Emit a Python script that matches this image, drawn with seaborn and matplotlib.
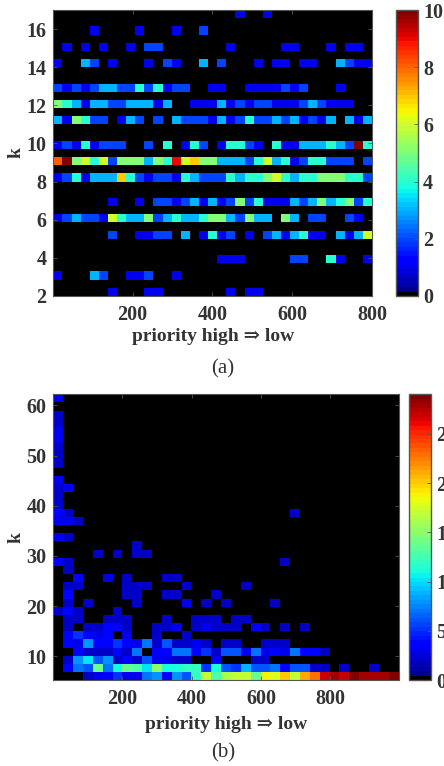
import matplotlib
matplotlib.use("Agg")
import matplotlib.pyplot as plt
from matplotlib.colors import ListedColormap
import numpy as np
import seaborn as sns

# panel (a): one list per k, 35 priority bins
a_k17 = [0] * 20 + [1, 0, 0, 1] + [0] * 11
a_k16 = [0, 0, 0, 0, 1, 0, 0, 0, 0, 1, 0, 0, 0, 1, 0, 0, 2] + [0] * 18
a_k15 = [0, 1, 0, 1, 0, 1, 0, 0, 1, 0, 2, 2, 0, 0, 0, 0, 0, 0, 0, 1, 0, 0, 0, 0, 0, 1, 1, 0, 0, 0, 1, 0, 1, 1, 0]
a_k14 = [1, 0, 0, 3, 2, 0, 1, 0, 0, 0, 1, 0, 2, 1, 0, 0, 3, 0, 2, 0, 0, 0, 1, 0, 1, 1, 0, 1, 1, 0, 0, 3, 2, 1, 1]
a_k13 = [2, 1, 2, 1, 2, 3, 3, 2, 2, 4, 2, 4, 1, 2, 2, 0, 0, 1, 1, 0, 0, 1, 1, 1, 1, 2, 1, 2, 0, 0, 0, 1, 0, 0, 0]
a_k12 = [5, 4, 3, 1, 3, 3, 2, 2, 3, 3, 3, 1, 3, 0, 0, 1, 1, 1, 3, 1, 2, 1, 2, 2, 1, 1, 1, 2, 3, 2, 1, 1, 1, 0, 0]
a_k11 = [3, 1, 5, 4, 2, 2, 0, 1, 3, 2, 0, 2, 0, 3, 2, 2, 2, 1, 3, 1, 2, 4, 2, 2, 3, 2, 3, 1, 2, 1, 3, 0, 3, 1, 3]
a_k10 = [1, 2, 1, 4, 1, 2, 2, 2, 0, 0, 2, 0, 4, 0, 1, 4, 2, 0, 1, 4, 4, 2, 1, 0, 4, 1, 1, 3, 3, 3, 4, 3, 2, 10, 4]
a_k9 = [8, 10, 5, 6, 4, 6, 2, 5, 5, 5, 3, 5, 4, 9, 6, 7, 5, 5, 3, 3, 3, 2, 4, 6, 3, 4, 1, 2, 4, 4, 2, 2, 2, 0, 2]
a_k8 = [1, 2, 4, 1, 3, 3, 3, 7, 4, 2, 1, 2, 2, 1, 4, 3, 2, 2, 2, 4, 3, 4, 4, 5, 6, 4, 3, 4, 4, 5, 5, 5, 4, 4, 2]
a_k7 = [0, 0, 0, 0, 0, 0, 1, 0, 0, 1, 0, 2, 2, 1, 2, 3, 1, 3, 1, 2, 5, 2, 4, 1, 1, 1, 3, 2, 3, 5, 3, 4, 5, 2, 4]
a_k6 = [1, 2, 3, 2, 2, 1, 6, 4, 3, 3, 5, 2, 3, 4, 3, 3, 4, 5, 5, 3, 2, 5, 3, 3, 0, 5, 3, 0, 2, 2, 0, 0, 2, 1, 0]
a_k5 = [0, 0, 0, 0, 0, 0, 2, 0, 0, 1, 1, 2, 2, 0, 3, 0, 1, 4, 1, 2, 0, 1, 0, 2, 3, 1, 3, 4, 1, 1, 0, 3, 1, 3, 6]
a_k4 = [0] * 18 + [1, 1, 1, 0, 0, 0, 0, 0, 2, 2, 0, 0, 4, 1, 0, 0, 1]
a_k3 = [1, 0, 0, 0, 3, 2, 0, 0, 1, 1, 2, 0, 0, 1] + [0] * 21
a_k2 = [0, 0, 0, 0, 0, 0, 1, 0, 0, 0, 1, 1, 0, 0, 0, 0, 0, 0, 0, 1, 0, 1, 1] + [0] * 12
a_ks = [2, 3, 4, 5, 6, 7, 8, 9, 10, 11, 12, 13, 14, 15, 16, 17]
a_rows = [a_k2, a_k3, a_k4, a_k5, a_k6, a_k7, a_k8, a_k9, a_k10, a_k11, a_k12, a_k13, a_k14, a_k15, a_k16, a_k17]

# panel (b): one list per k bin, bottom row first
b_r00 = [0, 0, 0, 2, 3, 4, 5, 3, 3, 7, 8, 4, 8, 6, 12, 17, 13, 16, 17, 17, 14, 19, 18, 20, 17, 21, 23, 27, 28, 27, 29, 28, 28, 28, 29]
b_r01 = [0, 4, 7, 6, 14, 7, 11, 14, 13, 10, 15, 11, 11, 12, 12, 5, 11, 6, 5, 9, 6, 6, 7, 4, 6, 6, 2, 2, 0, 2, 0, 0, 2, 0, 0]
b_r02 = [0, 2, 8, 10, 6, 8, 2, 4, 2, 6, 3, 3, 2, 2, 0, 0, 3, 0, 0, 0, 2, 2] + [0] * 13
b_r03 = [0, 0, 4, 2, 2, 2, 4, 2, 7, 0, 4, 4, 7, 7, 4, 5, 2, 6, 6, 3, 7, 3, 4, 3, 7, 4, 4, 2] + [0] * 7
b_r04 = [0, 4, 3, 8, 4, 4, 5, 4, 3, 7, 2, 6, 2, 2, 3, 2, 0, 2, 2, 0, 0, 2, 2, 2] + [0] * 11
b_r05 = [0, 4, 5, 4, 3, 4, 0, 3, 0, 0, 2, 0, 0, 2] + [0] * 21
b_r06 = [0, 2, 0, 2, 2, 4, 4, 2, 0, 0, 2, 2, 3, 0, 2, 3, 2, 2, 2, 0, 4, 2, 0, 2, 0, 2] + [0] * 9
b_r07 = [0, 2, 2, 0, 0, 2, 2, 2, 0, 0, 0, 2, 0, 0, 2, 2, 2, 0, 2, 2] + [0] * 15
b_r08 = [2, 4, 2, 0, 0, 0, 2] + [0] * 28
b_r09 = [0, 2, 0, 2, 0, 0, 0, 0, 2, 0, 0, 0, 0, 3, 0, 2, 0, 2, 0, 0, 0, 0, 2] + [0] * 12
b_r10 = [0, 4, 0, 0, 0, 0, 0, 2, 2, 0, 0, 2, 2, 0, 0, 0, 2] + [0] * 18
b_r11 = [0, 2, 2, 0, 0, 0, 0, 2, 2, 2, 0, 0, 0, 2, 0, 0, 0, 0, 0, 2] + [0] * 15
b_r12 = [0, 0, 4, 0, 0, 3, 0, 2, 0, 0, 0, 2, 2] + [0] * 22
b_r13 = [0, 2] + [0] * 33
b_r14 = [4, 2] + [0] * 21 + [2] + [0] * 11
b_r15 = [0, 0, 0, 0, 2, 0, 2, 0, 2, 2] + [0] * 25
b_r16 = [0] * 8 + [2] + [0] * 26
b_r17 = [3, 2] + [0] * 33
b_r18 = [0] * 35
b_r19 = [3, 3, 2] + [0] * 32
b_r20 = [4, 2] + [0] * 22 + [2] + [0] * 10
b_r21 = [2] + [0] * 34
b_r22 = [2] + [0] * 34
b_r23 = [2, 3] + [0] * 33
b_r24 = [3] + [0] * 34
b_r25 = [0] * 35
b_r26 = [2] + [0] * 34
b_r27 = [2] + [0] * 34
b_r28 = [2] + [0] * 34
b_r29 = [3] + [0] * 34
b_r30 = [3] + [0] * 34
b_r31 = [2] + [0] * 34
b_r32 = [2] + [0] * 34
b_r33 = [0] * 35
b_r34 = [3] + [0] * 34
b_rows = [b_r34, b_r33, b_r32, b_r31, b_r30, b_r29, b_r28, b_r27, b_r26, b_r25, b_r24, b_r23,
          b_r22, b_r21, b_r20, b_r19, b_r18, b_r17, b_r16, b_r15, b_r14, b_r13, b_r12, b_r11,
          b_r10, b_r09, b_r08, b_r07, b_r06, b_r05, b_r04, b_r03, b_r02, b_r01, b_r00]

x_ticks_a = [200, 400, 600, 800]
y_ticks_a = [2, 4, 6, 8, 10, 12, 14, 16]
cbar_ticks_a = [0, 2, 4, 6, 8, 10]
x_ticks_b = [200, 400, 600, 800]
y_ticks_b = [10, 20, 30, 40, 50, 60]
cbar_ticks_b = [0, 5, 10, 15, 20, 25]

FIG_W, FIG_H = 444, 766
TEXT = "#333333"
FRAME = "#555555"

plt.rcParams['font.family'] = ['Liberation Serif', 'DejaVu Serif']

# jet with the lowest level black
levels = plt.get_cmap("jet", 64)(np.arange(64))
levels[0] = [0, 0, 0, 1]
black_jet = ListedColormap(levels)


def px_axes(fig, left, top, right, bottom):
    return fig.add_axes([left / FIG_W, 1 - bottom / FIG_H, (right - left) / FIG_W, (bottom - top) / FIG_H])


def draw_panel(fig, matrix, box, cbar_box, xr, yr, xticks, yticks, cticks, vmax, caption, cap_y, xpad):
    ax = px_axes(fig, *box)
    cax = px_axes(fig, *cbar_box)
    sns.heatmap(matrix, ax=ax, cbar_ax=cax, cmap=black_jet, vmin=0, vmax=vmax,
                xticklabels=False, yticklabels=False, square=False)
    nrows, ncols = matrix.shape
    ax.set_xticks([(v - xr[0]) / (xr[1] - xr[0]) * ncols for v in xticks])
    ax.set_xticklabels([str(v) for v in xticks])
    ax.set_yticks([(yr[1] - v) / (yr[1] - yr[0]) * nrows for v in yticks])
    ax.set_yticklabels([str(v) for v in yticks], rotation=0)
    ax.tick_params(direction='in', length=3, width=0.6, color=FRAME, top=True, right=True,
                   labelsize=14.5, labelcolor=TEXT, pad=5)
    ax.tick_params(axis='x', pad=6.5)
    for lab in ax.get_xticklabels() + ax.get_yticklabels():
        lab.set_fontweight('bold')
    for s in ax.spines.values():
        s.set_visible(True)
        s.set_color(FRAME)
        s.set_linewidth(0.8)
    ax.set_xlabel("priority high \u21d2 low", fontsize=14, fontweight='bold', color=TEXT, labelpad=xpad)
    ax.set_ylabel("k", fontsize=14, fontweight='bold', color=TEXT, labelpad=1)

    cb = ax.collections[0].colorbar
    cb.set_ticks(cticks)
    cb.set_ticklabels([str(v) for v in cticks])
    cax.tick_params(direction='in', length=3, width=0.6, color=FRAME, right=True,
                    labelsize=14.5, labelcolor=TEXT, pad=4)
    for lab in cax.get_yticklabels():
        lab.set_fontweight('bold')
    cb.outline.set_visible(True)
    cb.outline.set_edgecolor(FRAME)
    cb.outline.set_linewidth(1.0)

    fig.text(223 / FIG_W, 1 - cap_y / FIG_H, caption, fontsize=15, color=TEXT,
             ha='center', va='center')


fig = plt.figure(figsize=(FIG_W / 100, FIG_H / 100), dpi=100)

# k values land in 35 equal bins over the range
a_matrix = np.zeros((35, 35))
for k, row in zip(a_ks, a_rows):
    b = min(34, int((k - 2) / 15 * 35))
    a_matrix[34 - b] = row

b_matrix = np.array(b_rows, dtype=float)

draw_panel(fig, a_matrix, (53.3, 10, 372, 296), (396, 10, 417.5, 296), (1, 800), (2, 17),
           x_ticks_a, y_ticks_a, cbar_ticks_a, 10, "(a)", 369, 2.5)
draw_panel(fig, b_matrix, (53.3, 394.3, 398.7, 680.3), (408.7, 394.3, 430.7, 680.3), (1, 997), (5.2, 62.2),
           x_ticks_b, y_ticks_b, cbar_ticks_b, 29, "(b)", 752.5, 5)

fig.savefig("out.png", dpi=100)
